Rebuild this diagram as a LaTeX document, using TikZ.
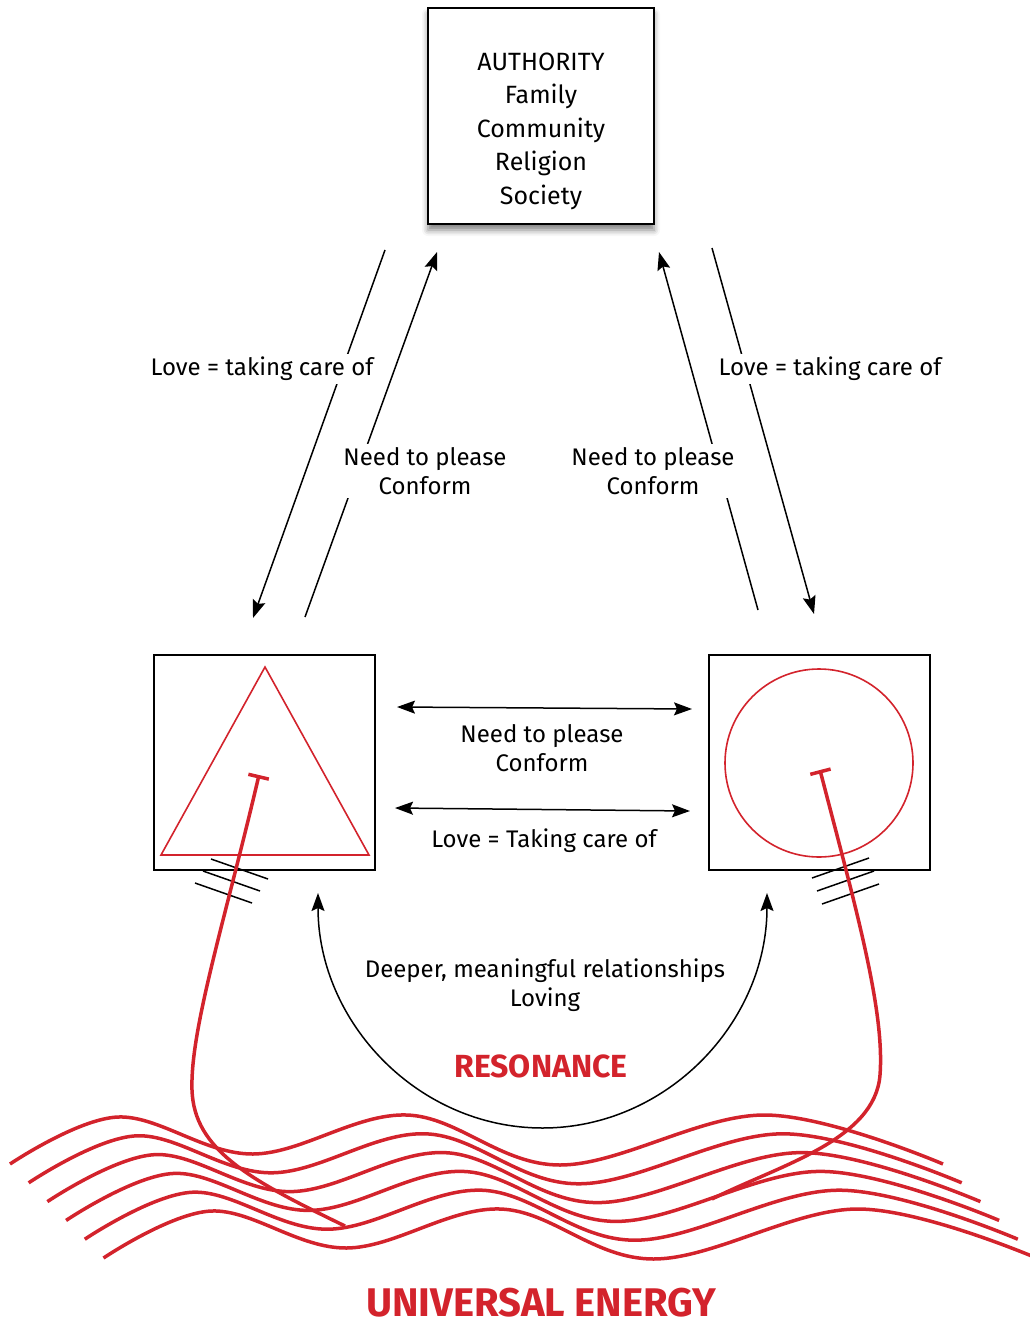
\documentclass[tikz,border=0pt]{standalone}
\usepackage{fontspec}
\setmainfont{Fira Sans}
\usetikzlibrary{arrows.meta,shadows.blur}

\definecolor{energyred}{RGB}{211,35,44}

\tikzset{
    box/.style = {draw, line width=2pt, fill=white, inner sep=0pt},
    lbl/.style = {fill=white, inner sep=3pt, align=center, font=\fontsize{24}{29}\selectfont},
    link/.style = {line width=1.5pt},
    ray/.style = {draw=energyred, line width=3.5pt},
    hatch/.style = {line width=1.5pt},
    shout/.style = {anchor=base, inner sep=0pt, text=energyred},
}

\begin{document}
\begin{tikzpicture}[x=1pt, y=-1pt, >={Stealth[length=18pt, width=13pt, inset=3pt]}]
    \useasboundingbox (0,0) rectangle (1029,1327);

    % the authority box
    \node [box, minimum width=226pt, minimum height=216pt,
           blur shadow={shadow xshift=0pt, shadow yshift=-6pt, shadow blur radius=6pt, shadow opacity=50}]
        (authority) at (541,116) {};
    \node [align=center, font=\fontsize{25}{33.5}\selectfont] (authority text) at (541,131)
        {AUTHORITY\\Family\\Community\\Religion\\Society};

    % the two persons
    \node [box, minimum width=221pt, minimum height=215pt] (self) at (264.5,762.5) {};
    \node [box, minimum width=221pt, minimum height=215pt] (other) at (819.5,762.5) {};
    \draw [energyred, line width=1.6pt] (265,667) -- (161,855) -- (369,855) -- cycle;
    \draw [energyred, line width=1.6pt] (819,763) circle (94);

    % ends of the lines to and from authority
    \coordinate (careL top) at (385,250);   \coordinate (careL bot) at (253,618);
    \coordinate (pleaseL bot) at (305,617); \coordinate (pleaseL top) at (437,252);
    \coordinate (pleaseR bot) at (758,610); \coordinate (pleaseR top) at (659,252);
    \coordinate (careR top) at (712,248);   \coordinate (careR bot) at (814,614);

    \draw [->, link] (careL top)  --  (careL bot);
    \draw [->, link] (pleaseL bot)  --  (pleaseL top);
    \draw [->, link] (pleaseR bot)  --  (pleaseR top);
    \draw [->, link] (careR top)  --  (careR bot);

    \node [lbl] (careL) at (262,369) {Love = taking care of};
    \node [lbl] (pleaseL) at (425,471) {Need to please\\Conform};
    \node [lbl] (pleaseR) at (653,471) {Need to please\\Conform};
    \node [lbl] (careR) at (830,369) {Love = taking care of};

    % between the two persons
    \coordinate (pleaseM a) at (397,707); \coordinate (pleaseM b) at (692,709);
    \coordinate (careM a) at (395,808);   \coordinate (careM b) at (690,811);
    \draw [<->, link] (pleaseM a)  --  (pleaseM b);
    \draw [<->, link] (careM a)  --  (careM b);
    \node [lbl] (pleaseM) at (542,748) {Need to please\\Conform};
    \node [lbl] (careM) at (544,841) {Love = Taking care of};

    % resonance
    \coordinate (resL) at (318,893);
    \draw [<->, link] (resL) arc [start angle=180, end angle=0, x radius=224.5, y radius=235]
        coordinate (resR);
    \node [lbl, fill=none] (deeper) at (545,985) {Deeper, meaningful relationships\\Loving};
    \node [shout, font=\fontsize{32}{32}\selectfont\bfseries] (resonance) at (541,1077) {RESONANCE};

    % hatches where the rays leave the boxes
    \foreach \k in {0,1,2}{
        \draw [hatch] (211-8*\k, 859+12*\k)  --  ++(57,20);
        \draw [hatch] (812+5*\k, 878+13*\k)  --  ++(57,-20);
    }

    % universal energy waves
    \foreach \k in {0,...,5}{
        \draw [energyred, line width=3.5pt, shift={(18.7*\k,18.8*\k)}]
            plot [smooth, tension=0.6] coordinates {(10,1164) (118,1117) (253,1154) (407,1115) (560,1165) (764,1115) (943,1164)};
    }

    % rays from the persons into the waves
    \draw [ray, {Bar[width=21pt, length=0pt, line width=3.5pt]}-]
        (259,775) .. controls (225,920) and (190,1030) .. (192,1090)
        .. controls (194,1150) and (250,1180) .. (345,1226);
    \draw [ray, {Bar[width=21pt, length=0pt, line width=3.5pt]}-]
        (820,770) .. controls (855,905) and (885,1010) .. (880,1075)
        .. controls (875,1140) and (780,1165) .. (712,1199);

    \node [shout, font=\fontsize{40}{40}\selectfont\bfseries] (energy) at (541,1316) {UNIVERSAL ENERGY};

\end{tikzpicture}
\end{document}
